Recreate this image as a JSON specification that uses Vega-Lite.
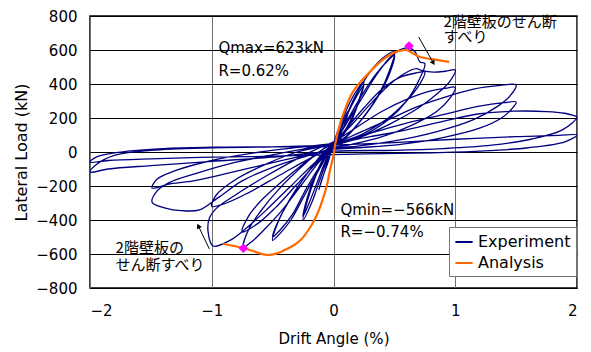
{
  "$schema": "https://vega.github.io/schema/vega-lite/v6.json",
  "width": 487,
  "height": 272,
  "autosize": "none",
  "padding": {"left": 90, "top": 16, "right": 14, "bottom": 64},
  "background": "white",
  "config": {
    "view": {"stroke": "black", "strokeWidth": 1.5},
    "font": "DejaVu Sans",
    "axis": {"labelFont": "DejaVu Sans", "titleFont": "DejaVu Sans", "labelColor": "black", "titleColor": "black", "titleFontWeight": "normal", "domain": false, "ticks": false, "labelOverlap": false}
  },
  "datasets": {
    "exp": [
      {"o":1,"x":0,"y":0},{"o":2,"x":0.03,"y":70},{"o":3,"x":0.06,"y":140},{"o":4,"x":0.09,"y":200},{"o":5,"x":0.12,"y":240},
      {"o":6,"x":0.10,"y":180},{"o":7,"x":0.06,"y":110},{"o":8,"x":0.0,"y":40},{"o":9,"x":-0.04,"y":-40},{"o":10,"x":-0.08,"y":-130},{"o":11,"x":-0.12,"y":-220},
      {"o":12,"x":-0.09,"y":-150},{"o":13,"x":-0.04,"y":-50},{"o":14,"x":0,"y":50},{"o":15,"x":0.06,"y":170},{"o":16,"x":0.12,"y":270},{"o":17,"x":0.18,"y":350},{"o":18,"x":0.25,"y":415},
      {"o":19,"x":0.22,"y":330},{"o":20,"x":0.15,"y":200},{"o":21,"x":0.07,"y":100},{"o":22,"x":0,"y":40},{"o":23,"x":-0.06,"y":-60},{"o":24,"x":-0.12,"y":-180},{"o":25,"x":-0.18,"y":-300},{"o":26,"x":-0.25,"y":-400},
      {"o":27,"x":-0.22,"y":-300},{"o":28,"x":-0.15,"y":-150},{"o":29,"x":-0.07,"y":-20},{"o":30,"x":0,"y":50},{"o":31,"x":0.07,"y":150},{"o":32,"x":0.14,"y":260},{"o":33,"x":0.2,"y":340},{"o":34,"x":0.25,"y":395},
      {"o":35,"x":0.21,"y":300},{"o":36,"x":0.14,"y":170},{"o":37,"x":0.06,"y":80},{"o":38,"x":0,"y":35},{"o":39,"x":-0.07,"y":-60},{"o":40,"x":-0.14,"y":-190},{"o":41,"x":-0.2,"y":-300},{"o":42,"x":-0.25,"y":-380},
      {"o":43,"x":-0.22,"y":-280},{"o":44,"x":-0.15,"y":-140},{"o":45,"x":-0.07,"y":-20},{"o":46,"x":0,"y":50},{"o":47,"x":0.08,"y":170},{"o":48,"x":0.18,"y":330},{"o":49,"x":0.3,"y":470},{"o":50,"x":0.4,"y":550},{"o":51,"x":0.5,"y":590},
      {"o":52,"x":0.46,"y":480},{"o":53,"x":0.38,"y":350},{"o":54,"x":0.25,"y":210},{"o":55,"x":0.1,"y":90},{"o":56,"x":0,"y":40},{"o":57,"x":-0.1,"y":-80},{"o":58,"x":-0.22,"y":-230},{"o":59,"x":-0.35,"y":-400},{"o":60,"x":-0.44,"y":-480},{"o":61,"x":-0.5,"y":-520},
      {"o":62,"x":-0.46,"y":-420},{"o":63,"x":-0.36,"y":-280},{"o":64,"x":-0.22,"y":-130},{"o":65,"x":-0.08,"y":-10},{"o":66,"x":0,"y":50},{"o":67,"x":0.1,"y":170},{"o":68,"x":0.22,"y":320},{"o":69,"x":0.35,"y":460},{"o":70,"x":0.45,"y":540},{"o":71,"x":0.5,"y":570},
      {"o":72,"x":0.46,"y":460},{"o":73,"x":0.36,"y":320},{"o":74,"x":0.22,"y":180},{"o":75,"x":0.08,"y":70},{"o":76,"x":0,"y":35},{"o":77,"x":-0.1,"y":-70},{"o":78,"x":-0.22,"y":-210},{"o":79,"x":-0.34,"y":-370},{"o":80,"x":-0.44,"y":-460},{"o":81,"x":-0.5,"y":-500},
      {"o":82,"x":-0.45,"y":-400},{"o":83,"x":-0.34,"y":-260},{"o":84,"x":-0.2,"y":-110},{"o":85,"x":-0.08,"y":0},{"o":86,"x":0,"y":50},{"o":87,"x":0.1,"y":160},{"o":88,"x":0.22,"y":300},{"o":89,"x":0.35,"y":450},{"o":90,"x":0.47,"y":560},{"o":91,"x":0.56,"y":605},{"o":92,"x":0.62,"y":612},{"o":93,"x":0.67,"y":590},{"o":94,"x":0.71,"y":530},{"o":95,"x":0.75,"y":520},
      {"o":96,"x":0.7,"y":420},{"o":97,"x":0.6,"y":300},{"o":98,"x":0.45,"y":190},{"o":99,"x":0.25,"y":100},{"o":100,"x":0,"y":35},{"o":101,"x":-0.12,"y":-60},{"o":102,"x":-0.27,"y":-200},{"o":103,"x":-0.42,"y":-340},{"o":104,"x":-0.56,"y":-450},{"o":105,"x":-0.66,"y":-520},{"o":106,"x":-0.74,"y":-560},
      {"o":107,"x":-0.7,"y":-460},{"o":108,"x":-0.6,"y":-350},{"o":109,"x":-0.45,"y":-220},{"o":110,"x":-0.25,"y":-80},{"o":111,"x":-0.1,"y":10},{"o":112,"x":0,"y":55},{"o":113,"x":0.12,"y":150},{"o":114,"x":0.25,"y":260},{"o":115,"x":0.4,"y":370},{"o":116,"x":0.55,"y":440},{"o":117,"x":0.68,"y":465},{"o":118,"x":0.75,"y":470},
      {"o":119,"x":0.7,"y":390},{"o":120,"x":0.6,"y":300},{"o":121,"x":0.45,"y":200},{"o":122,"x":0.25,"y":110},{"o":123,"x":0,"y":35},{"o":124,"x":-0.12,"y":-50},{"o":125,"x":-0.3,"y":-190},{"o":126,"x":-0.48,"y":-330},{"o":127,"x":-0.62,"y":-420},{"o":128,"x":-0.75,"y":-470},
      {"o":129,"x":-0.7,"y":-380},{"o":130,"x":-0.6,"y":-290},{"o":131,"x":-0.45,"y":-190},{"o":132,"x":-0.25,"y":-70},{"o":133,"x":-0.1,"y":10},{"o":134,"x":0,"y":55},{"o":135,"x":0.15,"y":160},{"o":136,"x":0.3,"y":280},{"o":137,"x":0.45,"y":390},{"o":138,"x":0.58,"y":460},{"o":139,"x":0.68,"y":490},{"o":140,"x":0.73,"y":478},{"o":141,"x":0.82,"y":470},{"o":142,"x":0.92,"y":475},{"o":143,"x":1.0,"y":482},
      {"o":144,"x":0.96,"y":420},{"o":145,"x":0.88,"y":360},{"o":146,"x":0.7,"y":260},{"o":147,"x":0.45,"y":160},{"o":148,"x":0.2,"y":80},{"o":149,"x":0,"y":30},{"o":150,"x":-0.15,"y":-60},{"o":151,"x":-0.35,"y":-200},{"o":152,"x":-0.55,"y":-340},{"o":153,"x":-0.72,"y":-450},{"o":154,"x":-0.85,"y":-520},{"o":155,"x":-0.99,"y":-553},
      {"o":156,"x":-1.03,"y":-470},{"o":157,"x":-1.02,"y":-390},{"o":158,"x":-0.96,"y":-330},
      {"o":159,"x":-0.8,"y":-250},{"o":160,"x":-0.55,"y":-140},{"o":161,"x":-0.3,"y":-40},{"o":162,"x":-0.1,"y":30},{"o":163,"x":0,"y":60},{"o":164,"x":0.2,"y":150},{"o":165,"x":0.4,"y":240},{"o":166,"x":0.6,"y":310},{"o":167,"x":0.8,"y":360},{"o":168,"x":0.92,"y":375},{"o":169,"x":1.0,"y":380},
      {"o":170,"x":0.96,"y":320},{"o":171,"x":0.85,"y":240},{"o":172,"x":0.65,"y":160},{"o":173,"x":0.4,"y":90},{"o":174,"x":0.15,"y":45},{"o":175,"x":0,"y":25},{"o":176,"x":-0.2,"y":-40},{"o":177,"x":-0.45,"y":-140},{"o":178,"x":-0.7,"y":-240},{"o":179,"x":-0.88,"y":-300},{"o":180,"x":-1.0,"y":-320},
      {"o":181,"x":-0.96,"y":-250},{"o":182,"x":-0.8,"y":-160},{"o":183,"x":-0.55,"y":-70},{"o":184,"x":-0.3,"y":0},{"o":185,"x":0,"y":50},{"o":186,"x":0.2,"y":110},{"o":187,"x":0.45,"y":190},{"o":188,"x":0.7,"y":270},{"o":189,"x":0.95,"y":330},{"o":190,"x":1.15,"y":370},{"o":191,"x":1.35,"y":390},{"o":192,"x":1.5,"y":394},
      {"o":193,"x":1.45,"y":330},{"o":194,"x":1.35,"y":270},{"o":195,"x":1.15,"y":190},{"o":196,"x":0.85,"y":120},{"o":197,"x":0.5,"y":65},{"o":198,"x":0.2,"y":35},{"o":199,"x":0,"y":20},{"o":200,"x":-0.25,"y":-30},{"o":201,"x":-0.5,"y":-90},{"o":202,"x":-0.75,"y":-170},{"o":203,"x":-0.95,"y":-270},{"o":204,"x":-1.1,"y":-340},{"o":205,"x":-1.25,"y":-345},{"o":206,"x":-1.38,"y":-330},{"o":207,"x":-1.49,"y":-295},
      {"o":208,"x":-1.45,"y":-230},{"o":209,"x":-1.35,"y":-180},{"o":210,"x":-1.1,"y":-120},{"o":211,"x":-0.8,"y":-60},{"o":212,"x":-0.45,"y":-10},{"o":213,"x":-0.15,"y":30},{"o":214,"x":0,"y":50},{"o":215,"x":0.3,"y":110},{"o":216,"x":0.6,"y":170},{"o":217,"x":0.9,"y":220},{"o":218,"x":1.2,"y":270},{"o":219,"x":1.4,"y":290},{"o":220,"x":1.5,"y":294},
      {"o":221,"x":1.46,"y":250},{"o":222,"x":1.38,"y":200},{"o":223,"x":1.2,"y":140},{"o":224,"x":0.9,"y":85},{"o":225,"x":0.55,"y":45},{"o":226,"x":0.2,"y":25},{"o":227,"x":0,"y":15},{"o":228,"x":-0.3,"y":-30},{"o":229,"x":-0.6,"y":-80},{"o":230,"x":-0.9,"y":-130},{"o":231,"x":-1.15,"y":-170},{"o":232,"x":-1.36,"y":-190},{"o":233,"x":-1.49,"y":-212},
      {"o":234,"x":-1.45,"y":-160},{"o":235,"x":-1.3,"y":-110},{"o":236,"x":-1.0,"y":-50},{"o":237,"x":-0.6,"y":0},{"o":238,"x":-0.25,"y":30},{"o":239,"x":0,"y":50},{"o":240,"x":0.3,"y":90},{"o":241,"x":0.6,"y":130},{"o":242,"x":0.9,"y":180},{"o":243,"x":1.2,"y":225},{"o":244,"x":1.48,"y":240},{"o":245,"x":1.75,"y":238},{"o":246,"x":1.9,"y":228},{"o":247,"x":1.97,"y":215},{"o":248,"x":2.0,"y":206},
      {"o":249,"x":1.88,"y":130},{"o":250,"x":1.62,"y":75},{"o":251,"x":1.3,"y":40},{"o":252,"x":0.9,"y":20},{"o":253,"x":0.5,"y":10},{"o":254,"x":0,"y":5},{"o":255,"x":-0.5,"y":-30},{"o":256,"x":-1.0,"y":-55},{"o":257,"x":-1.5,"y":-80},{"o":258,"x":-1.85,"y":-100},{"o":259,"x":-2.0,"y":-118},
      {"o":260,"x":-1.95,"y":-75},{"o":261,"x":-1.8,"y":-20},{"o":262,"x":-1.5,"y":10},{"o":263,"x":-1.0,"y":25},{"o":264,"x":-0.5,"y":30},{"o":265,"x":0,"y":40},{"o":266,"x":0.5,"y":55},{"o":267,"x":1.0,"y":75},{"o":268,"x":1.5,"y":90},{"o":269,"x":1.85,"y":98},{"o":270,"x":2.0,"y":100},
      {"o":271,"x":1.9,"y":60},{"o":272,"x":1.6,"y":25},{"o":273,"x":1.2,"y":5},{"o":274,"x":0.8,"y":-5},{"o":275,"x":0.4,"y":-10},{"o":276,"x":0,"y":-15},{"o":277,"x":-0.5,"y":-25},{"o":278,"x":-1.0,"y":-30},{"o":279,"x":-1.5,"y":-40},{"o":280,"x":-1.85,"y":-50},{"o":281,"x":-2.0,"y":-60},
      {"o":282,"x":-1.95,"y":-30},{"o":283,"x":-1.8,"y":-5},{"o":284,"x":-1.4,"y":20},{"o":285,"x":-1.0,"y":28},{"o":286,"x":-0.5,"y":30},{"o":287,"x":0,"y":30}
    ],
    "ana": [
      {"o":1,"x":-0.91,"y":-541},{"o":2,"x":-0.82,"y":-552},{"o":3,"x":-0.74,"y":-566},{"o":4,"x":-0.66,"y":-582},{"o":5,"x":-0.6,"y":-598},{"o":6,"x":-0.54,"y":-606},{"o":7,"x":-0.47,"y":-598},{"o":8,"x":-0.41,"y":-580},{"o":9,"x":-0.33,"y":-550},{"o":10,"x":-0.27,"y":-518},{"o":11,"x":-0.19,"y":-441},{"o":12,"x":-0.13,"y":-360},{"o":13,"x":-0.09,"y":-282},{"o":14,"x":-0.05,"y":-182},{"o":15,"x":-0.03,"y":-110},{"o":16,"x":0.0,"y":-20},{"o":17,"x":0.016,"y":53},{"o":18,"x":0.057,"y":175},{"o":19,"x":0.1,"y":260},{"o":20,"x":0.14,"y":330},{"o":21,"x":0.2,"y":395},{"o":22,"x":0.26,"y":441},{"o":23,"x":0.33,"y":495},{"o":24,"x":0.39,"y":535},{"o":25,"x":0.45,"y":565},{"o":26,"x":0.51,"y":588},{"o":27,"x":0.56,"y":597},{"o":28,"x":0.6,"y":600},{"o":29,"x":0.64,"y":585},{"o":30,"x":0.69,"y":565},{"o":31,"x":0.75,"y":553},{"o":32,"x":0.82,"y":545},{"o":33,"x":0.88,"y":538},{"o":34,"x":0.95,"y":530}
    ],
    "peaks": [{"x":0.62,"y":623},{"x":-0.74,"y":-566}],
    "notes": [
      {"x":-0.945,"y":612,"t":"Qmax=623kN","g":"en"},
      {"x":-0.945,"y":478,"t":"R=0.62%","g":"en"},
      {"x":0.057,"y":-343,"t":"Qmin=−566kN","g":"en"},
      {"x":0.057,"y":-472,"t":"R=−0.74%","g":"en"},
      {"x":0.903,"y":765,"t":"2階壁板のせん断","g":"ja"},
      {"x":0.903,"y":674,"t":"すべり","g":"ja"},
      {"x":-1.79,"y":-565,"t":"2階壁板の","g":"ja"},
      {"x":-1.79,"y":-665,"t":"せん断すべり","g":"ja"}
    ],
    "arrows": [
      {"a":"top","x":0.70,"y":676,"x2":0.82,"y2":524},
      {"a":"left","x":-1.02,"y":-570,"x2":-1.11,"y2":-435}
    ]
  },
  "layer": [
    {
      "data": {"name": "exp"},
      "mark": {"type": "line", "strokeWidth": 1.3, "interpolate": "catmull-rom", "clip": true},
      "encoding": {
        "x": {"field": "x", "type": "quantitative", "scale": {"domain": [-2, 2], "nice": false, "zero": false},
              "axis": {"values": [-2, -1, 0, 1, 2], "tickCount": 20, "format": "d", "grid": true, "gridColor": "#707070", "gridWidth": 1, "labelFontSize": 15, "labelPadding": 15, "title": "Drift Angle (%)", "titleFontSize": 15, "titlePadding": 13}},
        "y": {"field": "y", "type": "quantitative", "scale": {"domain": [-800, 800], "nice": false, "zero": false},
              "axis": {"values": [-800, -600, -400, -200, 0, 200, 400, 600, 800], "tickCount": 20, "format": "d", "grid": true, "gridColor": "black", "gridWidth": 1, "labelFontSize": 15, "labelPadding": 13, "title": "Lateral Load (kN)", "titleFontSize": 16, "titlePadding": 6}},
        "order": {"field": "o", "type": "quantitative"},
        "color": {"datum": "Experiment", "type": "nominal",
                  "scale": {"domain": ["Experiment", "Analysis"], "range": ["#000080", "#ff6a00"]},
                  "legend": {"title": null, "orient": "none", "legendX": 359, "legendY": 211, "symbolType": "stroke", "symbolStrokeWidth": 2, "symbolSize": 300, "labelFontSize": 16, "labelFont": "DejaVu Sans", "labelColor": "black", "strokeColor": "#777777", "fillColor": "white", "padding": 5, "rowPadding": 3, "cornerRadius": 0, "labelOffset": 4}}
      }
    },
    {
      "data": {"name": "ana"},
      "mark": {"type": "line", "strokeWidth": 2.2, "interpolate": "catmull-rom"},
      "encoding": {
        "x": {"field": "x", "type": "quantitative"},
        "y": {"field": "y", "type": "quantitative"},
        "order": {"field": "o", "type": "quantitative"},
        "color": {"datum": "Analysis", "type": "nominal"}
      }
    },
    {
      "data": {"name": "peaks"},
      "mark": {"type": "point", "shape": "diamond", "filled": true, "color": "#ff00ff", "size": 90, "opacity": 1},
      "encoding": {
        "x": {"field": "x", "type": "quantitative"},
        "y": {"field": "y", "type": "quantitative"}
      }
    },
    {
      "data": {"name": "arrows"},
      "mark": {"type": "rule", "color": "black", "strokeWidth": 1},
      "encoding": {
        "x": {"field": "x", "type": "quantitative"},
        "y": {"field": "y", "type": "quantitative"},
        "x2": {"field": "x2"},
        "y2": {"field": "y2"}
      }
    },
    {
      "data": {"name": "arrows"},
      "transform": [{"filter": "datum.a === 'top'"}],
      "mark": {"type": "point", "shape": "triangle-up", "filled": true, "color": "black", "size": 30, "angle": 150, "opacity": 1},
      "encoding": {
        "x": {"field": "x2", "type": "quantitative"},
        "y": {"field": "y2", "type": "quantitative"}
      }
    },
    {
      "data": {"name": "arrows"},
      "transform": [{"filter": "datum.a === 'left'"}],
      "mark": {"type": "point", "shape": "triangle-up", "filled": true, "color": "black", "size": 30, "angle": 334, "opacity": 1},
      "encoding": {
        "x": {"field": "x2", "type": "quantitative"},
        "y": {"field": "y2", "type": "quantitative"}
      }
    },
    {
      "data": {"name": "notes"},
      "transform": [{"filter": "datum.g === 'en'"}],
      "mark": {"type": "text", "align": "left", "baseline": "middle", "font": "DejaVu Sans", "fontSize": 15, "color": "black"},
      "encoding": {
        "x": {"field": "x", "type": "quantitative"},
        "y": {"field": "y", "type": "quantitative"},
        "text": {"field": "t"}
      }
    },
    {
      "data": {"name": "notes"},
      "transform": [{"filter": "datum.g === 'ja'"}],
      "mark": {"type": "text", "align": "left", "baseline": "middle", "font": "Noto Sans CJK JP", "fontSize": 15, "color": "black"},
      "encoding": {
        "x": {"field": "x", "type": "quantitative"},
        "y": {"field": "y", "type": "quantitative"},
        "text": {"field": "t"}
      }
    }
  ]
}
